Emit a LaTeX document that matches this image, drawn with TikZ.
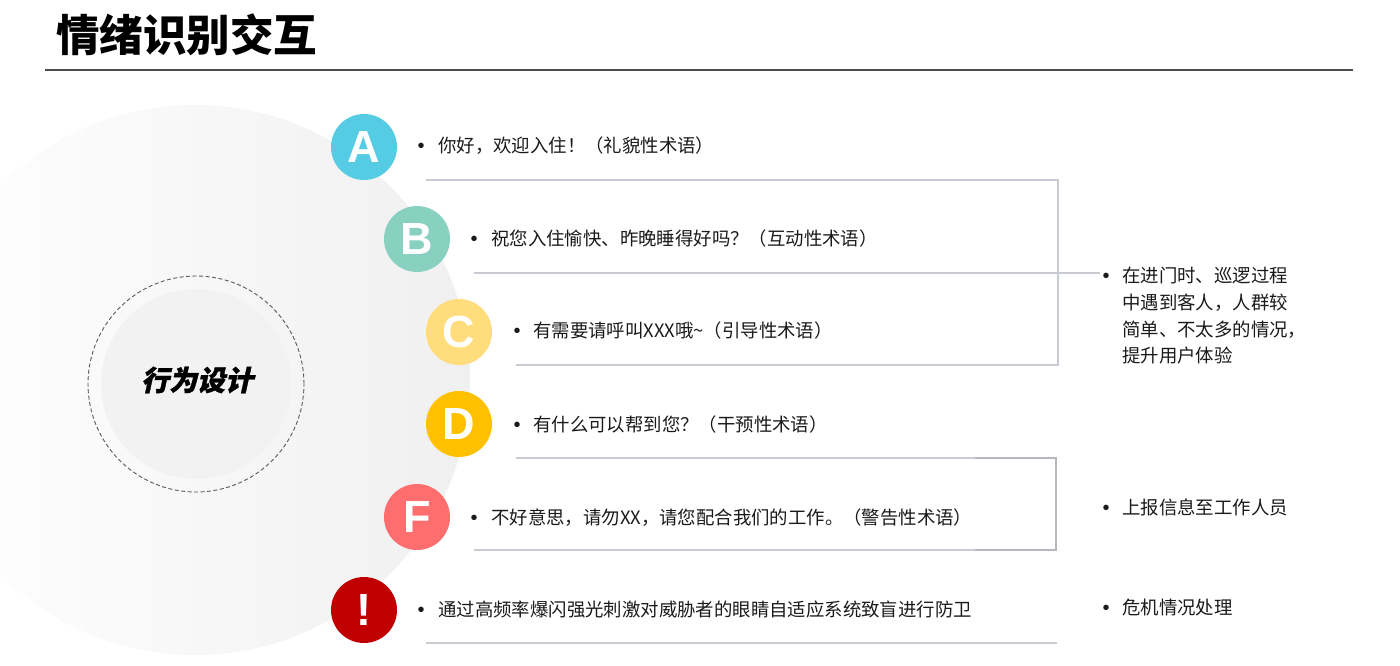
\documentclass[tikz,border=0pt]{standalone}
\usepackage{fontspec}
\setmainfont{Liberation Sans}
\newfontfamily\cjk{Noto Sans CJK SC}
\newfontfamily\cjksl[FakeSlant=0.22,FakeBold=1.2]{Noto Sans CJK SC}
\definecolor{cA}{HTML}{56CCE4}
\definecolor{cB}{HTML}{88D0C0}
\definecolor{cC}{HTML}{FFDC7C}
\definecolor{cD}{HTML}{FFC000}
\definecolor{cF}{HTML}{FF6E6E}
\definecolor{cX}{HTML}{C00000}
\definecolor{sep}{HTML}{C8CCD2}
\definecolor{sepd}{HTML}{B4B8BE}
\definecolor{txt}{HTML}{1A1A1A}
\definecolor{inner}{HTML}{F2F2F2}
\tikzset{
  lcirc/.style={circle, minimum size=66pt, inner sep=0pt, text=white,
    font=\fontsize{45}{45}\selectfont\bfseries},
  bul/.style={anchor=base, inner sep=0pt, text=txt, font=\fontsize{20}{22}\selectfont},
  item/.style={anchor=base west, inner sep=0pt, text=txt, font=\cjk\fontsize{18.4}{22}\selectfont},
  sepline/.style={draw=sep, line width=1.4pt},
}
\begin{document}
\begin{tikzpicture}[x=1pt,y=-1pt]
\useasboundingbox (0,0) rectangle (1400,665);
% background big circle
\begin{scope}
  \clip (0,0) rectangle (1400,665);
  \shade[left color=white, right color=black!6] (195,380) circle (275pt);
\end{scope}
% title
\node[anchor=west, inner sep=0pt, text=black, font=\cjk\bfseries\fontsize{43.5}{46}\selectfont] (title) at (56,35) {情绪识别交互};
\coordinate (tl1) at (45,70);
\coordinate (tl2) at (1353,70);
\draw[draw=black!70, line width=1.3pt] (tl1) -- (tl2);
% centre circle
\node[circle, draw=black!65, dash pattern=on 4pt off 2.5pt, line width=0.9pt, minimum size=216pt, inner sep=0pt] (ring) at (196,384) {};
\node[circle, fill=inner, minimum size=190pt, inner sep=0pt] (core) at (196,384) {};
\node[inner sep=0pt, text=black, font=\cjksl\bfseries\fontsize{28}{30}\selectfont] (core text) at (197,380) {行为设计};
% letter circles
\node[lcirc, fill=cA] (A) at (364,147) {A};
\node[lcirc, fill=cB] (B) at (417,239) {B};
\node[lcirc, fill=cC] (C) at (459,332) {C};
\node[lcirc, fill=cD] (D) at (459,424) {D};
\node[lcirc, fill=cF] (F) at (417,517) {F};
\node[lcirc, fill=cX] (X) at (364,610) {!};
% items (baseline = centre + 7)
\node[bul] (bA) at (421,152) {•};
\node[item] (tA) at (438,152) {你好，欢迎入住！（礼貌性术语）};
\node[bul] (bB) at (474,245) {•};
\node[item] (tB) at (491,245) {祝您入住愉快、昨晚睡得好吗？（互动性术语）};
\node[bul] (bC) at (517,337) {•};
\node[item] (tC) at (533,337) {有需要请呼叫XXX哦\textasciitilde（引导性术语）};
\node[bul] (bD) at (517,431) {•};
\node[item] (tD) at (533,431) {有什么可以帮到您？（干预性术语）};
\node[bul] (bF) at (474,524) {•};
\node[item] (tF) at (491,524) {不好意思，请勿XX，请您配合我们的工作。（警告性术语）};
\node[bul] (bX) at (421,616) {•};
\node[item] (tX) at (438,616) {通过高频率爆闪强光刺激对威胁者的眼睛自适应系统致盲进行防卫};
% separators
\coordinate (a1) at (426,180); \coordinate (a2) at (1058,180);
\coordinate (b1) at (474,273); \coordinate (b2) at (1100,273);
\coordinate (c1) at (516,365); \coordinate (c2) at (1058,365);
\draw[sepline] (a1) -- (a2) -- (c2) -- (c1);
\draw[sepline, line width=1.1pt] (b1) -- (b2);
\coordinate (d1) at (516,458); \coordinate (d2) at (1056,458);
\coordinate (f1) at (474,550); \coordinate (f2) at (1056,550);
\draw[sepline] (d1) -- (d2) -- (f2) -- (f1);
\draw[draw=sepd, line width=1.4pt] (975,458) -- (d2) -- (f2) -- (975,550);
\coordinate (x1) at (426,643); \coordinate (x2) at (1057,643);
\draw[sepline] (x1) -- (x2);
% right column
\node[bul] (r1b) at (1106,282) {•};
\node[anchor=north west, inner sep=0pt, text=txt, align=left,
  font=\cjk\fontsize{18.4}{26.7}\selectfont] (r1) at (1122,267)
  {在进门时、巡逻过程\\中遇到客人，人群较\\简单、不太多的情况，\\提升用户体验};
\node[bul] (r2b) at (1106,514) {•};
\node[item] (r2) at (1122,514) {上报信息至工作人员};
\node[bul] (r3b) at (1106,614) {•};
\node[item] (r3) at (1122,614) {危机情况处理};
\end{tikzpicture}
\end{document}
